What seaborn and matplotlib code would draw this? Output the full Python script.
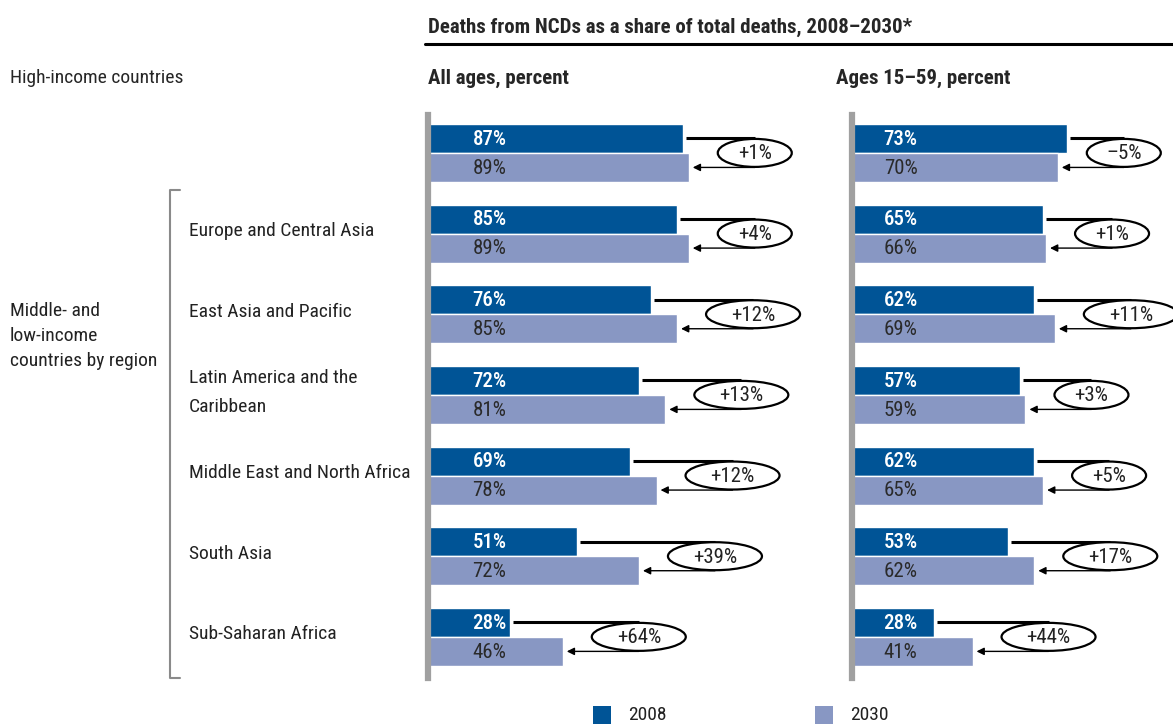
import matplotlib
matplotlib.use("Agg")
import matplotlib.pyplot as plt
from matplotlib.patches import Ellipse, Rectangle
from matplotlib.transforms import blended_transform_factory
import seaborn as sns
import pandas as pd

regions = ["High-income countries", "Europe and Central Asia", "East Asia and Pacific",
           "Latin America and the\nCaribbean", "Middle East and North Africa",
           "South Asia", "Sub-Saharan Africa"]
years = ["2008", "2030"]

all_2008 = [87, 85, 76, 72, 69, 51, 28]
all_2030 = [89, 89, 85, 81, 78, 72, 46]
all_change = ["+1%", "+4%", "+12%", "+13%", "+12%", "+39%", "+64%"]

young_2008 = [73, 65, 62, 57, 62, 53, 28]
young_2030 = [70, 66, 69, 59, 65, 62, 41]
young_change = ["\u20135%", "+1%", "+11%", "+3%", "+5%", "+17%", "+44%"]

dark = "#005496"
light = "#8897c3"
W, H = 1173, 724
FS = 14

sns.set_style("white")
plt.rcParams["font.family"] = ["Roboto Condensed", "Liberation Sans Narrow", "Roboto", "DejaVu Sans"]
plt.rcParams["font.size"] = FS

fig = plt.figure(figsize=(W / 100, H / 100), dpi=100)


def px_axes(x0, y0, x1, y1):
    return fig.add_axes([x0 / W, 1 - y1 / H, (x1 - x0) / W, (y1 - y0) / H])


def panel(ax, v08, v30, changes, pxu, label_x):
    df = pd.DataFrame({
        "region": regions * 2,
        "year": [years[0]] * len(regions) + [years[1]] * len(regions),
        "value": v08 + v30,
    })
    sns.barplot(data=df, y="region", x="value", hue="year", order=regions,
                hue_order=years, orient="h", palette=[dark, light], width=0.72,
                saturation=1, legend=False, ax=ax)
    ax.set_xlim(0, ax.get_position().width * W / pxu)
    ax.set_ylim(6.51, -0.47)
    for s in ["top", "right", "bottom"]:
        ax.spines[s].set_visible(False)
    ax.spines["left"].set_color("#a0a0a0")
    ax.spines["left"].set_linewidth(4.5)
    ax.set_xticks([])
    ax.set_yticks([])
    ax.set_xlabel("")
    ax.set_ylabel("")
    ypx = 80.67
    for i in range(len(regions)):
        a, b, c = v08[i], v30[i], changes[i]
        ax.text(label_x, i - 0.17, f"{a}%", color="white", ha="center", va="center",
                fontsize=15, fontweight="medium")
        ax.text(label_x, i + 0.19, f"{b}%", color="#2a2a2a", ha="center", va="center",
                fontsize=15)
        ew = (74 if len(c) <= 3 else 94) / pxu
        ex = b + 29 / pxu + ew / 2
        ax.plot([a + 3 / pxu, ex], [i - 0.18, i - 0.18], color="black", lw=2.2,
                solid_capstyle="butt", clip_on=False, zorder=3)
        ax.annotate("", xy=(b + 4 / pxu, i + 0.18), xytext=(ex, i + 0.18),
                    arrowprops=dict(arrowstyle="-|>", lw=1, color="black",
                                    mutation_scale=11, shrinkA=0, shrinkB=0),
                    annotation_clip=False, zorder=3)
        ax.add_patch(Ellipse((ex, i), ew, 28 / ypx, facecolor="white",
                             edgecolor="black", lw=1.6, clip_on=False, zorder=4))
        ax.text(ex, i + 0.01, c, ha="center", va="center", fontsize=15, color="#222222", zorder=5)


ax1 = px_axes(428, 115, 838, 678)
panel(ax1, all_2008, all_2030, all_change, 2.93, 21)
ax2 = px_axes(852, 115, 1173, 678)
panel(ax2, young_2008, young_2030, young_change, 2.94, 16.5)

# headings
fig.text(428 / W, 1 - 27 / H, "Deaths from NCDs as a share of total deaths, 2008\u20132030*",
         fontsize=15, fontweight="bold", va="center", ha="left")
fig.add_artist(plt.Line2D([425 / W, 1], [1 - 44 / H, 1 - 44 / H], color="black", lw=2.2))
fig.text(10 / W, 1 - 78 / H, "High-income countries", fontsize=FS, va="center")
fig.text(428 / W, 1 - 78 / H, "All ages, percent", fontsize=15, fontweight="bold", va="center")
fig.text(836 / W, 1 - 78 / H, "Ages 15\u201359, percent", fontsize=15, fontweight="bold", va="center")

# region labels
tr = blended_transform_factory(fig.transFigure, ax1.transData)
for i, r in enumerate(regions[1:], start=1):
    ax1.text(189 / W, i - 0.03, r, transform=tr, ha="left", va="center", fontsize=FS,
             linespacing=1.8, color="#222222")
fig.text(10 / W, 1 - 336 / H, "Middle- and\nlow-income\ncountries by region", fontsize=FS,
         va="center", ha="left", linespacing=1.5, color="#222222")

# bracket
bx = [180 / W, 170 / W, 170 / W, 180 / W]
by = [1 - 190 / H, 1 - 190 / H, 1 - 678 / H, 1 - 678 / H]
fig.add_artist(plt.Line2D(bx, by, color="#8a8a8a", lw=1.5))

# legend
for x0, col, lab in [(593, dark, "2008"), (815, light, "2030")]:
    fig.add_artist(Rectangle((x0 / W, 0), 18 / W, 18 / H, transform=fig.transFigure,
                             facecolor=col, edgecolor="none"))
    fig.text((x0 + 35) / W, 1 - 715 / H, lab, fontsize=FS, va="center", color="#222222")

fig.savefig("out.png", dpi=100)
